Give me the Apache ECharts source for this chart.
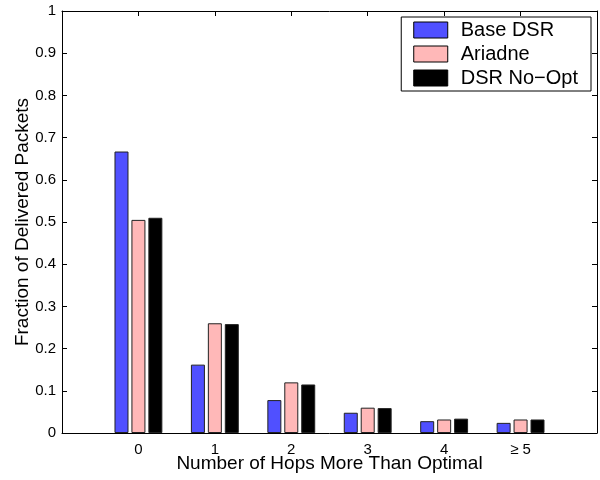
<!DOCTYPE html>
<html>
<head>
<meta charset="utf-8">
<script src="https://cdn.jsdelivr.net/npm/echarts@6/dist/echarts.min.js"></script>
<style>html,body{margin:0;padding:0;background:#fff}#c{width:600px;height:480px}</style>
</head>
<body>
<div id="c"></div>
<script>
var categories = ['0', '1', '2', '3', '4', '\u2265 5'];
var seriesNames = ['Base DSR', 'Ariadne', 'DSR No\u2212Opt'];
var baseDSR = [0.667, 0.162, 0.078, 0.048, 0.028, 0.024];
var ariadne = [0.505, 0.260, 0.120, 0.060, 0.032, 0.032];
var dsrNoOpt = [0.510, 0.258, 0.115, 0.059, 0.034, 0.032];
var yTicks = [0, 0.1, 0.2, 0.3, 0.4, 0.5, 0.6, 0.7, 0.8, 0.9, 1];

var colors = ['#5050ff', '#ffb8b8', '#000000'];
var values = [baseDSR, ariadne, dsrNoOpt];
var font = 'Liberation Sans, Arial, Helvetica, sans-serif';

function pts(arr) { return arr.map(function (v, i) { return [i, v]; }); }

var chart = echarts.init(document.getElementById('c'));
var axisLine = { show: true, onZero: false, lineStyle: { color: '#000', width: 1 } };
var option = {
  animation: false,
  backgroundColor: '#fff',
  textStyle: { fontFamily: font },
  grid: { left: 62, right: 3, top: 11, bottom: 47, containLabel: false, outerBoundsMode: 'none' },
  legend: {
    orient: 'vertical',
    right: 9, top: 17,
    backgroundColor: '#fff',
    borderColor: '#000', borderWidth: 1,
    padding: [3, 13, 3, 12],
    itemWidth: 34, itemHeight: 16, itemGap: 4,
    textStyle: { fontSize: 20, color: '#000', fontFamily: font, padding: [0, 0, 0, 8] },
    data: seriesNames.map(function (n, i) {
      return { name: n, icon: 'rect', itemStyle: { color: colors[i], borderColor: '#000', borderWidth: 1 } };
    })
  },
  xAxis: [{
    type: 'value', min: -1, max: 6, interval: 1, position: 'bottom',
    axisLine: axisLine,
    axisTick: { show: true, inside: true, length: 5, lineStyle: { color: '#000' } },
    axisLabel: {
      color: '#000', fontSize: 15, margin: 9, fontFamily: font,
      formatter: function (v) { return (v >= 0 && v < categories.length) ? categories[v] : ''; }
    },
    splitLine: { show: false },
    name: 'Number of Hops More Than Optimal', nameLocation: 'middle', nameGap: 21,
    nameMoveOverlap: false,
    nameTextStyle: { fontSize: 19, color: '#000', fontFamily: font }
  }, {
    type: 'value', min: -1, max: 6, interval: 1, position: 'top',
    axisLine: axisLine,
    axisTick: { show: true, inside: true, length: 5, lineStyle: { color: '#000' } },
    axisLabel: { show: false }, splitLine: { show: false }
  }],
  yAxis: [{
    type: 'value', min: 0, max: 1, interval: 0.1, position: 'left',
    axisLine: axisLine,
    axisTick: { show: true, inside: true, length: 5, lineStyle: { color: '#000' } },
    axisLabel: {
      color: '#000', fontSize: 15, margin: 6, fontFamily: font,
      formatter: function (v) {
        var t = yTicks.reduce(function (a, b) { return Math.abs(b - v) < Math.abs(a - v) ? b : a; });
        return String(t);
      }
    },
    splitLine: { show: false },
    name: 'Fraction of Delivered Packets', nameLocation: 'middle', nameGap: 30,
    nameMoveOverlap: false,
    nameTextStyle: { fontSize: 19, color: '#000', fontFamily: font }
  }, {
    type: 'value', min: 0, max: 1, interval: 0.1, position: 'right',
    axisLine: axisLine,
    axisTick: { show: true, inside: true, length: 5, lineStyle: { color: '#000' } },
    axisLabel: { show: false }, splitLine: { show: false }
  }],
  series: seriesNames.map(function (n, i) {
    return {
      name: n, type: 'bar', xAxisIndex: 0, yAxisIndex: 0,
      barWidth: 14, barGap: '21%',
      itemStyle: { color: colors[i], borderColor: '#222', borderWidth: 1 },
      data: pts(values[i])
    };
  })
};
chart.setOption(option);
</script>
</body>
</html>
